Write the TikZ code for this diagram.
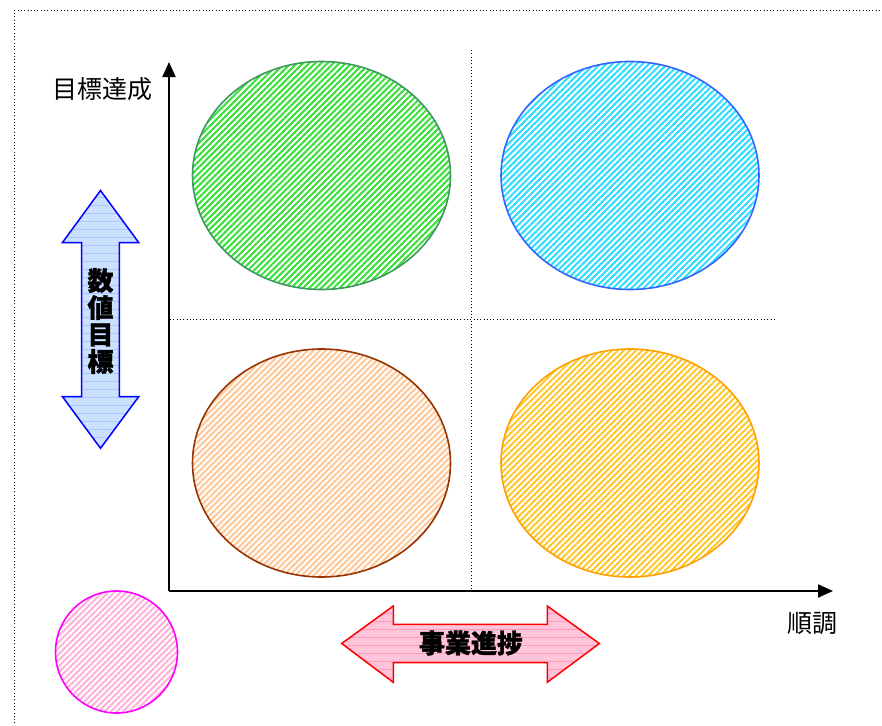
\documentclass[tikz,border=0pt]{standalone}
\usepackage{fontspec}
\newfontfamily\cjk{Noto Sans CJK JP}
\newfontfamily\cjkheavy[BoldFeatures={FakeBold=1.2}]{Noto Sans CJK JP}
\usetikzlibrary{patterns.meta,arrows.meta}
\definecolor{gstroke}{HTML}{3C9A5F}
\definecolor{ghatch}{HTML}{3CE03C}
\definecolor{bstroke}{HTML}{3366FF}
\definecolor{bhatch}{HTML}{33DDFF}
\definecolor{brstroke}{HTML}{993300}
\definecolor{brhatch}{HTML}{FFC898}
\definecolor{ostroke}{HTML}{FFA000}
\definecolor{ohatch}{HTML}{FFC830}
\definecolor{mstroke}{HTML}{FF00FF}
\definecolor{mhatch}{HTML}{FFB3D9}
\definecolor{arrblue}{HTML}{CCE0FF}
\definecolor{arrbluel}{HTML}{A8C8FF}
\definecolor{arrpink}{HTML}{FFC4DA}
\definecolor{arrpinkl}{HTML}{FF9CBE}
\tikzset{
  hatchzone/.style n args={2}{draw=#1, line width=1.6pt, pattern={Lines[angle=45,distance=4.3pt,line width=2.1pt]}, pattern color=#2},
  dotline/.style={line width=1pt, dash pattern=on 1pt off 2.3pt},
  axis/.style={line width=2pt, -{Triangle[length=15pt,width=13pt]}},
  label/.style={font=\cjk\fontsize{25}{27}\selectfont, inner sep=0pt},
  boldlabel/.style={font=\cjkheavy\bfseries\fontsize{26}{27}\selectfont, inner sep=0pt, align=center},
  dblarrow/.style n args={3}{draw=#1, line width=1.5pt, line join=miter, preaction={fill=#2}, pattern={Lines[angle=0,distance=8pt,line width=0.6pt]}, pattern color=#3}
}
\begin{document}
\begin{tikzpicture}[x=1pt,y=-1pt]
\useasboundingbox (0,0) rectangle (882,725);
% outer dotted frame
\draw[dotline] (14,730) -- (14,11) -- (890,11);
% quadrant ellipses
\draw[hatchzone={gstroke}{ghatch}] (321.5,175.5) ellipse [x radius=129, y radius=114];
\draw[hatchzone={bstroke}{bhatch}] (630,175.5) ellipse [x radius=129, y radius=114];
\draw[hatchzone={brstroke}{brhatch}] (321.5,463) ellipse [x radius=129, y radius=114];
\draw[hatchzone={ostroke}{ohatch}] (630,463) ellipse [x radius=129, y radius=114];
\draw[hatchzone={mstroke}{mhatch}] (116.5,652) circle [radius=61];
% dotted quadrant lines
\draw[dotline] (471.5,50) -- (471.5,591);
\draw[dotline] (170,319) -- (776,319);
% axes
\coordinate (o) at (169,591);
\coordinate (ytip) at (169,62);
\coordinate (xtip) at (833,591);
\draw[axis] (o) -- (ytip);
\draw[axis] (o) -- (xtip);
\node[label] (ylab) at (102,89) {目標達成};
\node[label] (xlab) at (812,623.5) {順調};
% vertical double arrow
\draw[dblarrow={blue}{arrblue}{arrbluel}] (100.5,190.5) -- (138.7,242.5) -- (119.3,242.5) -- (119.3,396.7) -- (138.7,396.7) -- (100.5,448.3) -- (62.5,396.7) -- (81.7,396.7) -- (81.7,242.5) -- (62.5,242.5) -- cycle;
\node[boldlabel] (vtext) at (100.5,321) {数\\値\\目\\標};
% horizontal double arrow
\draw[dblarrow={red}{arrpink}{arrpinkl}] (341.7,643.5) -- (393.3,606) -- (393.3,624.3) -- (547.3,624.3) -- (547.3,606) -- (599.3,643.5) -- (547.3,682.3) -- (547.3,662.7) -- (393.3,662.7) -- (393.3,682.3) -- cycle;
\node[boldlabel] (htext) at (471,643) {事業進捗};
\end{tikzpicture}
\end{document}
